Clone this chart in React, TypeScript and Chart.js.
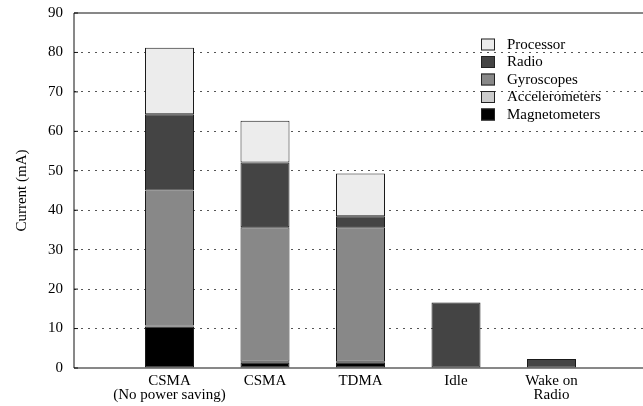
import React, { useEffect, useRef } from "react";
import { Chart, registerables } from "chart.js";

Chart.register(...registerables);

const categories: string[][] = [
  ["CSMA", "(No power saving)"],
  ["CSMA"],
  ["TDMA"],
  ["Idle"],
  ["Wake on", "Radio"],
];

const magnetometers = [10.5, 1.3, 1.3, null, null];
const accelerometers = [0.3, 0.3, 0.3, null, null];
const gyroscopes = [34.2, 34.1, 34.1, null, null];
const radio = [19.3, 16.4, 2.8, 16.6, 2.3];
const processor = [16.9, 10.6, 10.8, null, null];

const yTicks = [0, 10, 20, 30, 40, 50, 60, 70, 80, 90];

const FONT = "'Liberation Serif', 'Times New Roman', serif";

const series = [
  { label: "Magnetometers", data: magnetometers, color: "#000000" },
  { label: "Accelerometers", data: accelerometers, color: "#cbcbcb" },
  { label: "Gyroscopes", data: gyroscopes, color: "#888888" },
  { label: "Radio", data: radio, color: "#444444" },
  { label: "Processor", data: processor, color: "#ececec" },
];

const framePlugin = {
  id: "frame",
  afterDatasetsDraw(chart: any) {
    const { ctx, chartArea } = chart;
    const { left, right, top, bottom } = chartArea;
    const yScale = chart.scales.y;
    ctx.save();
    ctx.strokeStyle = "#111";
    ctx.lineWidth = 1;
    ctx.beginPath();
    ctx.moveTo(left, top);
    ctx.lineTo(right + 5, top);
    ctx.moveTo(left, top);
    ctx.lineTo(left, bottom);
    ctx.lineTo(right + 5, bottom);
    yTicks.forEach((v) => {
      const y = yScale.getPixelForValue(v);
      ctx.moveTo(left, y);
      ctx.lineTo(left + 4, y);
    });
    ctx.stroke();
    ctx.restore();
  },
  afterDraw(chart: any) {
    const { ctx } = chart;
    const boxX = 481;
    const boxW = 14;
    const boxH = 12;
    const startY = 44.5;
    const step = 17.5;
    ctx.save();
    ctx.font = `15px ${FONT}`;
    ctx.textBaseline = "middle";
    ctx.textAlign = "left";
    const items = [...series].reverse();
    items.forEach((s, i) => {
      const cy = startY + i * step;
      ctx.fillStyle = s.color;
      ctx.fillRect(boxX, cy - boxH / 2, boxW, boxH);
      ctx.strokeStyle = "#222";
      ctx.lineWidth = 1;
      ctx.strokeRect(boxX + 0.5, cy - boxH / 2 + 0.5, boxW - 1, boxH - 1);
      ctx.fillStyle = "#000";
      ctx.fillText(s.label, 507, cy + 0.5);
    });
    ctx.restore();
  },
};

export default function App() {
  const ref = useRef<HTMLCanvasElement | null>(null);

  useEffect(() => {
    document.body.style.margin = "0";
    const canvas = ref.current;
    if (!canvas) return;
    const chart = new Chart(canvas, {
      type: "bar",
      data: {
        datasets: series.map((s) => ({
          label: s.label,
          data: s.data.map((v, i) => ({ x: i, y: v })),
          backgroundColor: s.color,
          borderColor: "#1a1a1a",
          borderWidth: 1,
          borderSkipped: false,
          categoryPercentage: 1,
          barPercentage: 0.513,
        })) as any,
      },
      options: {
        responsive: false,
        animation: false,
        events: [],
        layout: { padding: { top: 13, right: 0, left: 0, bottom: 0 } },
        plugins: {
          legend: { display: false },
          tooltip: { enabled: false },
        },
        scales: {
          x: {
            type: "linear",
            stacked: true,
            min: -1,
            max: 4.958,
            offset: false,
            grid: { display: false, drawTicks: false },
            border: { display: false },
            afterBuildTicks: (scale: any) => {
              scale.ticks = categories.map((_, i) => ({ value: i }));
            },
            afterFit: (scale: any) => {
              scale.height = 38;
              scale.paddingLeft = 0;
              scale.paddingRight = 0;
            },
            ticks: {
              autoSkip: false,
              maxRotation: 0,
              minRotation: 0,
              padding: 6,
              color: "#000",
              font: { family: FONT, size: 15, lineHeight: 0.95 },
              callback: (value: any) => categories[Math.round(Number(value))] ?? "",
            },
          },
          y: {
            stacked: true,
            min: 0,
            max: 90,
            afterBuildTicks: (scale: any) => {
              scale.ticks = yTicks.map((v) => ({ value: v }));
            },
            afterFit: (scale: any) => {
              scale.width = 74;
              scale.paddingTop = 0;
              scale.paddingBottom = 0;
            },
            grid: {
              drawTicks: false,
              color: (ctx: any) =>
                ctx.tick && (ctx.tick.value === 0 || ctx.tick.value === 90)
                  ? "rgba(0,0,0,0)"
                  : "#555555",
              lineWidth: 1,
            },
            border: { display: false, dash: [2, 5] },
            ticks: {
              padding: 11,
              color: "#000",
              font: { family: FONT, size: 15 },
            },
            title: {
              display: true,
              text: "Current (mA)",
              color: "#000",
              font: { family: FONT, size: 15 },
              padding: { top: 13, bottom: 0 },
            },
          },
        },
      },
      plugins: [framePlugin],
    });
    return () => chart.destroy();
  }, []);

  return (
    <div style={{ position: "fixed", left: 0, top: 0, width: 643, height: 406 }}>
      <canvas ref={ref} width={643} height={406} style={{ display: "block" }} />
    </div>
  );
}
